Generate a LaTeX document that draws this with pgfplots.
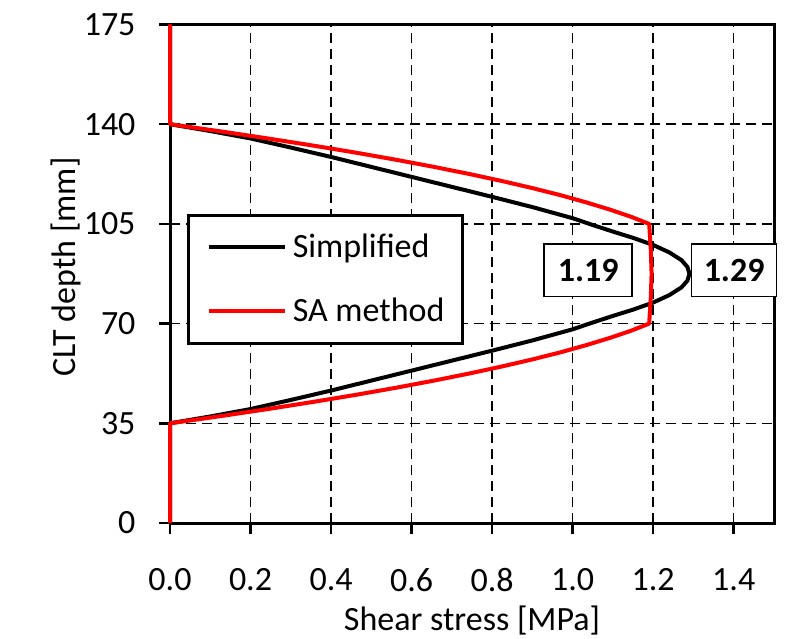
\documentclass[border=0pt]{standalone}
\usepackage{fontspec}
\setmainfont{Carlito}
\usepackage{pgfplots}
\pgfplotsset{compat=1.18}
\begin{document}
\begin{tikzpicture}
\path[use as bounding box] (0,0) rectangle (789pt,638pt);
\begin{axis}[
  at={(170pt,115pt)}, anchor=south west,
  scale only axis, width=604pt, height=498.5pt,
  xmin=0, xmax=1.5, ymin=0, ymax=175,
  xtick={0,0.2,0.4,0.6,0.8,1.0,1.2,1.4},
  ytick={0,35,70,105,140,175},
  tick pos=left, tick align=outside,
  major tick length=11pt,
  tick style={black, line width=2.5pt},
  grid=major,
  major grid style={black, line width=1.5pt, dash pattern=on 10pt off 6pt},
  axis line style={black, line width=3pt},
  font=\fontsize{34}{40}\selectfont,
  /pgf/number format/assume math mode=true,
  x tick label style={/pgf/number format/.cd, fixed, fixed zerofill, precision=1, /tikz/.cd, yshift=-31pt},
  y tick label style={xshift=-20pt},
  xlabel={Shear stress [MPa]},
  ylabel={CLT depth [mm]},
  x label style={at={(axis description cs:0.5,0)}, anchor=base, yshift=-107pt},
  y label style={at={(axis description cs:-0.157,0.514)}, anchor=base},
  legend style={at={(0.0286,0.6205)}, anchor=north west, draw=black, line width=3pt, fill=white,
    inner xsep=18pt, inner ysep=12.7pt, row sep=25.4pt, column sep=6pt,
    font=\fontsize{34}{40}\selectfont,
    nodes={inner sep=0pt, text height=30pt, text depth=8.6pt}},
  legend cell align=left,
  legend image code/.code={\draw[#1] (0pt,0pt) -- (76pt,0pt);},
  clip=false,
]
\addplot[black, line width=4pt, line join=round] coordinates {
(0,175)(0,140)(0.1,137.6)(0.2,135.0)(0.3,131.8)(0.4,128.5)(0.5,125.0)(0.6,121.5)(0.7,118.0)(0.8,114.5)(0.9,110.9)(1.0,107.0)(1.05,104.6)(1.1,102.3)(1.15,100.1)(1.2,97.6)(1.24,95.0)(1.27,92.3)(1.285,89.9)(1.29,87.5)
(1.285,85.1)(1.27,82.7)(1.24,80.0)(1.2,77.4)(1.15,74.9)(1.1,72.7)(1.05,70.4)(1.0,68.0)(0.9,64.1)(0.8,60.5)(0.7,57.0)(0.6,53.5)(0.5,50.0)(0.4,46.5)(0.3,43.2)(0.2,40.0)(0.1,37.4)(0,35)(0,0)
};
\addlegendentry{Simplified}
\addplot[red, line width=4pt, line join=round] coordinates {
(0,175)(0,140)(0.125,137.5)(0.243,135)(0.355,132.5)(0.462,130)(0.562,127.5)(0.656,125)(0.744,122.5)(0.826,120)(0.902,117.5)(0.972,115)(1.035,112.5)(1.093,110)(1.145,107.5)(1.19,105)
(1.194,96)(1.196,87.5)(1.194,79)(1.19,70)
(1.145,67.5)(1.093,65)(1.035,62.5)(0.972,60)(0.902,57.5)(0.826,55)(0.744,52.5)(0.656,50)(0.562,47.5)(0.462,45)(0.355,42.5)(0.243,40)(0.125,37.5)(0,35)(0,0)
};
\addlegendentry{SA method}
\node[draw=black, line width=1.7pt, fill=white, minimum width=87.7pt, minimum height=52.7pt, inner sep=0pt, font=\fontsize{34}{40}\selectfont\bfseries] at (axis cs:1.0385,88.8) {1.19};
\node[draw=black, line width=1.7pt, fill=white, minimum width=85pt, minimum height=52.7pt, inner sep=0pt, font=\fontsize{34}{40}\selectfont\bfseries] at (axis cs:1.401,88.8) {1.29};
\end{axis}
\end{tikzpicture}
\end{document}
